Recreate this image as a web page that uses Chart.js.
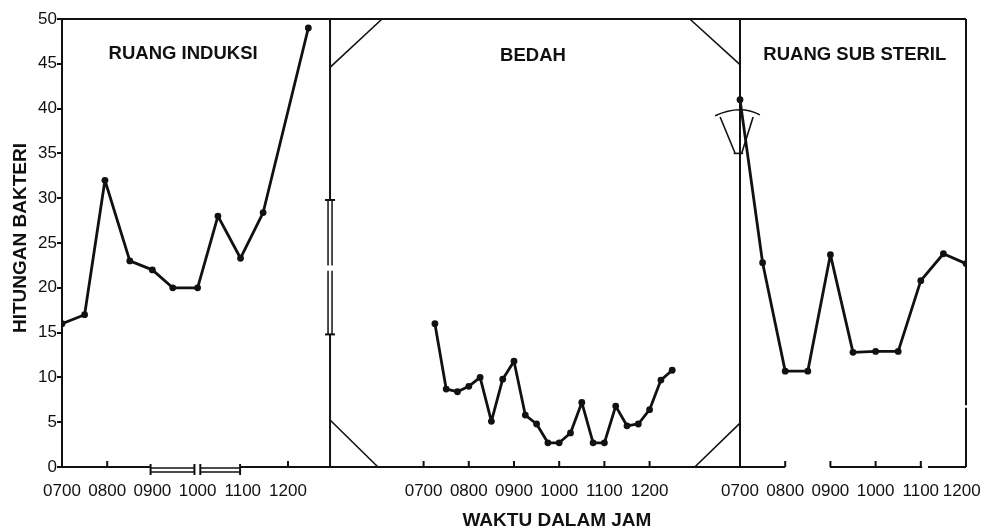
<!DOCTYPE html>
<html>
<head>
<meta charset="utf-8">
<script src="https://cdn.jsdelivr.net/npm/chart.js@4.4.1/dist/chart.umd.min.js"></script>
<style>
  html, body { margin: 0; padding: 0; background: #fff; }
  #wrap { width: 982px; height: 528px; position: relative; }
</style>
</head>
<body>
<div id="wrap"><canvas id="chart"></canvas></div>
<script>
// clock time (decimal hours) and bacteria count per room
const induksiHours  = [7.0, 7.5, 7.95, 8.5, 9.0, 9.45, 10.0, 10.45, 10.95, 11.45, 12.45];
const induksiCounts = [16, 17, 32, 23, 22, 20, 20, 28, 23.3, 28.4, 49];

const bedahHours  = [7.25, 7.5, 7.75, 8.0, 8.25, 8.5, 8.75, 9.0, 9.25, 9.5, 9.75,
                     10.0, 10.25, 10.5, 10.75, 11.0, 11.25, 11.5, 11.75, 12.0, 12.25, 12.5];
const bedahCounts = [16, 8.7, 8.4, 9, 10, 5.1, 9.8, 11.8, 5.8, 4.8, 2.7,
                     2.7, 3.8, 7.2, 2.7, 2.7, 6.8, 4.6, 4.8, 6.4, 9.7, 10.8];

const subSterilHours  = [7.0, 7.5, 8.0, 8.5, 9.0, 9.5, 10.0, 10.5, 11.0, 11.5, 12.0];
const subSterilCounts = [41, 22.8, 10.7, 10.7, 23.7, 12.8, 12.9, 12.9, 20.8, 23.8, 22.7];

const hourTicks  = [7, 8, 9, 10, 11, 12];
const hourLabels = ["0700", "0800", "0900", "1000", "1100", "1200"];
const countTicks = [0, 5, 10, 15, 20, 25, 30, 35, 40, 45, 50];
const roomNames  = ["RUANG INDUKSI", "BEDAH", "RUANG SUB STERIL"];

// layout of the three rooms on one shared x axis (axis unit = 1 hour)
const panelOffset = [0, 8, 15];   // where 0700 of each room sits
const walls = [5.93, 15];
const xMax = 20;
const ink = "#111";
const tickFont = { family: "'Liberation Sans', Arial, sans-serif", size: 17 };

const toAxis = (h, p) => h - 7 + panelOffset[p];

const tickValues = [];
const tickText = {};
panelOffset.forEach((off, p) => {
  hourTicks.forEach((h, i) => {
    const v = toAxis(h, p);
    tickValues.push(v);
    tickText[v] = hourLabels[i];
  });
});
// last label sits against the page edge in the original, pull it in a bit
tickText[xMax] = tickText[xMax] + "\u2002";

function series(hours, counts, p) {
  return {
    data: hours.map((h, i) => ({ x: toAxis(h, p), y: counts[i] })),
    borderColor: ink,
    backgroundColor: ink,
    borderWidth: 2.8,
    borderJoinStyle: "round",
    borderCapStyle: "round",
    pointRadius: 3.4,
    pointBackgroundColor: ink,
    pointBorderWidth: 0,
    tension: 0
  };
}

// walls, doors and windows of the floor plan
const floorPlan = {
  id: "floorPlan",
  beforeDatasetsDraw(chart) {
    const { ctx, scales: { x, y } } = chart;
    const X = v => x.getPixelForValue(v);
    const Y = v => y.getPixelForValue(v);
    const seg = (x1, y1, x2, y2) => {
      ctx.beginPath(); ctx.moveTo(x1, y1); ctx.lineTo(x2, y2); ctx.stroke();
    };
    const line = (a, b, c, d) => seg(X(a), Y(b), X(c), Y(d));

    ctx.save();
    ctx.strokeStyle = ink;
    ctx.lineWidth = 2;
    ctx.lineCap = "butt";

    // top
    line(0, 50, xMax, 50);
    // left wall with window
    const w = X(walls[0]);
    line(walls[0], 50, walls[0], 29.8);
    line(walls[0], 14.8, walls[0], 0);
    ctx.lineWidth = 1.5;
    [[29.8, 22.5], [21.9, 14.8]].forEach(([a, b]) => {
      seg(w - 2, Y(a), w - 2, Y(b));
      seg(w + 2, Y(a), w + 2, Y(b));
    });
    ctx.lineWidth = 2;
    seg(w - 5, Y(29.8), w + 5, Y(29.8));
    seg(w - 5, Y(14.8), w + 5, Y(14.8));
    // middle wall, right border
    line(walls[1], 50, walls[1], 0);
    line(xMax, 50, xMax, 6.9);
    line(xMax, 6.6, xMax, 0);

    // floor line with window and doors
    const y0 = Y(0);
    [[0, 1.96], [3.94, 16.0], [16.99, 19.03], [19.16, xMax]].forEach(([a, b]) => seg(X(a), y0, X(b), y0));
    ctx.lineWidth = 1.5;
    [[1.96, 2.93], [3.06, 3.94]].forEach(([a, b]) => {
      seg(X(a), y0 + 1, X(b), y0 + 1);
      seg(X(a), y0 + 5, X(b), y0 + 5);
    });
    ctx.lineWidth = 2;
    [1.96, 2.93, 3.06, 3.94].forEach(v => seg(X(v), y0 - 3, X(v), y0 + 8));

    // small upward hour marks
    const skip = [0, 2, 3, 4, 15, 20];
    tickValues.filter(v => !skip.includes(v)).forEach(v => seg(X(v), y0, X(v), y0 - 6));

    // corner diagonals of the operating room
    ctx.lineWidth = 1.6;
    line(walls[0], 44.6, 7.08, 50);
    line(13.89, 50, walls[1], 44.9);
    line(walls[0], 5.25, 6.99, 0);
    line(14.0, 0, walls[1], 4.9);

    // swing door on the sub-steril wall
    ctx.beginPath();
    ctx.moveTo(X(14.45), Y(39.2));
    ctx.quadraticCurveTo(X(15.0), Y(40.5), X(15.44), Y(39.3));
    ctx.stroke();
    line(14.56, 39.06, 14.89, 35.04);
    line(15.29, 39.06, 15.04, 35.04);
    line(14.86, 35.0, 15.07, 35.0);
    ctx.restore();
  },
  afterDraw(chart) {
    const { ctx, chartArea, scales: { x, y } } = chart;
    ctx.save();
    ctx.fillStyle = ink;
    ctx.textAlign = "center";
    ctx.textBaseline = "middle";
    ctx.font = "bold 18.5px 'Liberation Sans', Arial, sans-serif";
    const spots = [[2.68, 46.1], [10.42, 45.9], [17.54, 46.0]];
    roomNames.forEach((name, i) => {
      ctx.fillText(name, x.getPixelForValue(spots[i][0]), y.getPixelForValue(spots[i][1]));
    });

    ctx.font = "bold 19px 'Liberation Sans', Arial, sans-serif";
    ctx.fillText("WAKTU DALAM JAM", x.getPixelForValue(10.95), chartArea.bottom + 54);

    ctx.translate(21, (chartArea.top + chartArea.bottom) / 2 - 5);
    ctx.rotate(-Math.PI / 2);
    ctx.font = "bold 19px 'Liberation Sans', Arial, sans-serif";
    ctx.fillText("HITUNGAN BAKTERI", 0, 0);
    ctx.restore();
  }
};

new Chart(document.getElementById("chart"), {
  type: "line",
  data: {
    datasets: [
      series(induksiHours, induksiCounts, 0),
      series(bedahHours, bedahCounts, 1),
      series(subSterilHours, subSterilCounts, 2)
    ]
  },
  options: {
    responsive: true,
    maintainAspectRatio: false,
    animation: false,
    layout: { padding: { left: 0, right: 16, top: 19, bottom: 0 } },
    plugins: {
      legend: { display: false },
      tooltip: { enabled: false }
    },
    scales: {
      x: {
        type: "linear",
        min: 0,
        max: xMax,
        grid: { display: false, drawTicks: false },
        border: { display: false },
        afterBuildTicks: s => { s.ticks = tickValues.map(v => ({ value: v })); },
        afterFit: s => { s.height = 61; s.paddingLeft = 0; s.paddingRight = 0; },
        ticks: {
          autoSkip: false,
          maxRotation: 0,
          padding: 14,
          color: ink,
          font: tickFont,
          callback: v => tickText[v] || ""
        }
      },
      y: {
        min: 0,
        max: 50,
        afterBuildTicks: s => { s.ticks = countTicks.map(v => ({ value: v })); },
        afterFit: s => { s.width = 62; s.paddingTop = 0; s.paddingBottom = 0; },
        grid: { drawOnChartArea: false, tickLength: 5, color: ink, lineWidth: 2 },
        border: { display: true, color: ink, width: 2 },
        ticks: {
          padding: 0,
          color: ink,
          font: tickFont,
          callback: v => String(v)
        }
      }
    }
  },
  plugins: [floorPlan]
});
</script>
</body>
</html>
